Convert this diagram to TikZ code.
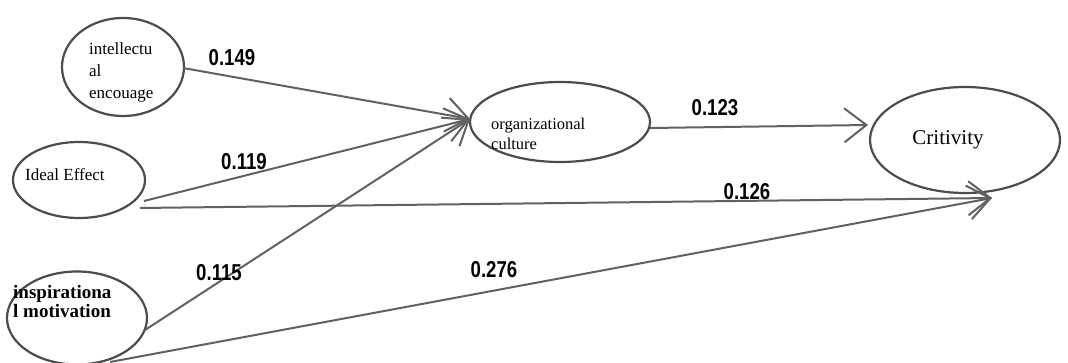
\documentclass[tikz,border=0pt]{standalone}
\usepackage{fontspec}
\setmainfont{Liberation Serif}
\newfontfamily\labfont{Liberation Sans}
\usetikzlibrary{shapes.geometric,arrows.meta}
\newcommand{\cf}[1]{\scalebox{0.93}[1.15]{#1}}
\tikzset{
  var/.style={ellipse, draw=black!70, line width=2.2pt, fill=white, inner sep=0pt},
  vtext/.style={align=left, inner sep=0pt, anchor=west},
  path/.style={draw=black!62, line width=2pt, -{Straight Barb[length=22pt,width=34pt,line width=2pt]}},
  coef/.style={font=\labfont\bfseries\fontsize{20}{20}\selectfont, inner sep=0pt}
}
\begin{document}
\begin{tikzpicture}[x=1pt,y=-1pt]
\useasboundingbox (0,0) rectangle (1068,363);
% ellipses
\node[var, minimum width=122pt, minimum height=98pt] (ie) at (123,67) {};
\node[var, minimum width=132pt, minimum height=76pt] (ide) at (79,180) {};
\node[var, minimum width=140pt, minimum height=93pt] (im) at (77,318) {};
\node[var, minimum width=180pt, minimum height=80pt] (oc) at (560,122) {};
\node[var, minimum width=190pt, minimum height=106pt] (cr) at (965,140) {};
% texts
\node[vtext, font=\fontsize{17}{22}\selectfont] (ieT) at (89,72) {intellectu\\al\\encouage};
\node[vtext, font=\fontsize{17}{20}\selectfont] (ideT) at (25,175) {Ideal Effect};
\node[vtext, font=\bfseries\fontsize{19}{19}\selectfont] (imT) at (13,302) {inspirationa\\l motivation};
\node[vtext, font=\fontsize{16.5}{20}\selectfont] (ocT) at (491,134) {organizational\\culture};
\node[font=\fontsize{21}{21}\selectfont, inner sep=0pt] (crT) at (948,140) {Critivity};
% connector end points
\coordinate (ieOut) at (183,68);
\coordinate (ideOut1) at (144,201);
\coordinate (ideOut2) at (140,208);
\coordinate (imOut1) at (145,330);
\coordinate (imOut2) at (110,362);
\coordinate (ocIn) at (470,119);
\coordinate (ocOut) at (650,128);
\coordinate (crIn1) at (868,125);
\coordinate (crIn2) at (992,198);
% connectors
\draw[path] (ieOut) -- (ocIn);
\draw[path] (ideOut1) -- (ocIn);
\draw[path] (imOut1) -- (ocIn);
\draw[path] (ocOut) -- (crIn1);
\draw[path] (ideOut2) -- (crIn2);
\draw[path] (imOut2) -- (crIn2);
% coefficients
\node[coef] (c1) at (232,58) {\cf{0.149}};
\node[coef] (c2) at (244,162) {\cf{0.119}};
\node[coef] (c3) at (747,192) {\cf{0.126}};
\node[coef] (c4) at (219,273) {\cf{0.115}};
\node[coef] (c5) at (494,270) {\cf{0.276}};
\node[coef] (c6) at (715,108) {\cf{0.123}};
\end{tikzpicture}
\end{document}
